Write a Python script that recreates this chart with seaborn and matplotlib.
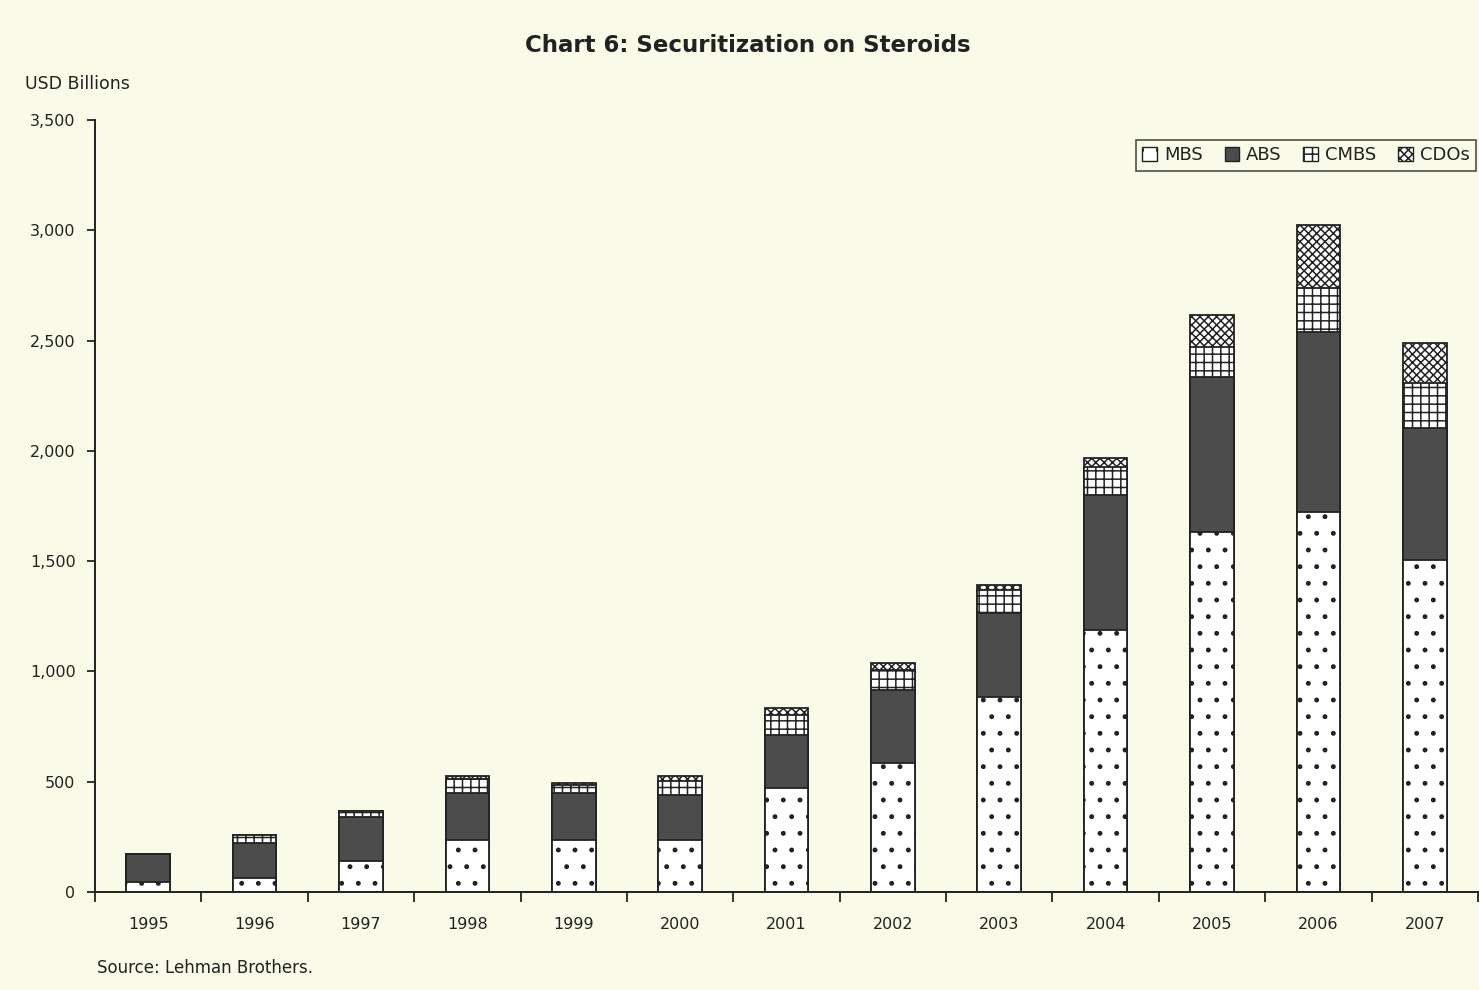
import matplotlib
matplotlib.use("Agg")
import matplotlib.pyplot as plt
from matplotlib.patches import Patch
import numpy as np
import seaborn as sns

# Issuance by product, USD billions
years = ["1995", "1996", "1997", "1998", "1999", "2000", "2001",
         "2002", "2003", "2004", "2005", "2006", "2007"]
mbs = [45, 63, 141, 236, 236, 236, 471, 585, 884, 1188, 1632, 1723, 1505]
abs_ = [127, 160, 199, 215, 213, 204, 241, 331, 381, 612, 702, 815, 598]
cmbs = [0, 35, 27, 60, 35, 62, 92, 92, 102, 127, 136, 200, 204]
cdos = [0, 0, 0, 15, 10, 24, 30, 30, 25, 40, 146, 286, 182]
series_names = ["MBS", "ABS", "CMBS", "CDOs"]
y_ticks = [0, 500, 1000, 1500, 2000, 2500, 3000, 3500]

BG = "#FAFAE9"
INK = "#222222"
sns.set_style("white")
plt.rcParams["font.family"] = ["DejaVu Sans"]
plt.rcParams["hatch.linewidth"] = 1.1

fig = plt.figure(figsize=(14.79, 9.90), dpi=100, facecolor=BG)
ax = fig.add_axes([95 / 1479, 98 / 990, 1383 / 1479, 772 / 990])
ax.set_facecolor(BG)

# fill, hatch per series
styles = {
    "MBS": dict(face="white", hatch="."),
    "ABS": dict(face="#4C4C4C", hatch=None),
    "CMBS": dict(face="white", hatch="++"),
    "CDOs": dict(face="white", hatch="xxxx"),
}

stack = np.cumsum(np.array([mbs, abs_, cmbs, cdos]), axis=0)

# draw the tallest cumulative layer first so lower layers sit on top
for idx in range(3, -1, -1):
    name = series_names[idx]
    st = styles[name]
    n0 = len(ax.patches)
    sns.barplot(x=years, y=stack[idx], color=st["face"], saturation=1,
                width=0.41, ax=ax, edgecolor=INK, linewidth=1.3)
    for p in ax.patches[n0:]:
        p.set_facecolor(st["face"])
        p.set_edgecolor(INK)
        if st["hatch"]:
            p.set_hatch(st["hatch"])

ax.set_xlim(-0.5, len(years) - 0.5)
ax.set_ylim(0, 3500)
ax.set_yticks(y_ticks)
ax.set_yticklabels([f"{v:,}" for v in y_ticks], fontsize=11.5, color=INK)
ax.set_xticks(range(len(years)))
ax.set_xticklabels(years, fontsize=11.5, color=INK)
ax.set_xticks(np.arange(-0.5, len(years)), minor=True)
ax.tick_params(axis="x", which="major", bottom=True, length=0, pad=18)
ax.tick_params(axis="x", which="minor", bottom=True, length=7, width=1.3,
               color=INK, direction="out")
ax.tick_params(axis="y", which="major", left=True, length=6, width=1.3,
               color=INK, direction="out", pad=8)
ax.set_xlabel("")
ax.set_ylabel("")
for side in ["top", "right"]:
    ax.spines[side].set_visible(False)
for side in ["left", "bottom"]:
    ax.spines[side].set_color(INK)
    ax.spines[side].set_linewidth(1.4)

handles = [Patch(facecolor=styles[n]["face"], edgecolor=INK,
                 hatch=styles[n]["hatch"], linewidth=1.0) for n in series_names]
leg = ax.legend(handles, series_names, ncol=4, loc="upper right",
                bbox_to_anchor=(0.9985, 0.974), fontsize=13, frameon=True,
                fancybox=False, edgecolor=INK, facecolor=BG,
                handlelength=0.8, handleheight=0.8, handletextpad=0.4,
                columnspacing=1.2, borderpad=0.35, borderaxespad=0.0)
leg.get_frame().set_linewidth(1.2)
for t in leg.get_texts():
    t.set_color(INK)

fig.text(748 / 1479, 1 - 46 / 990, "Chart 6: Securitization on Steroids",
         ha="center", va="center", fontsize=16.5, fontweight="bold", color=INK)
fig.text(25 / 1479, 1 - 84 / 990, "USD Billions", ha="left", va="center",
         fontsize=12.5, color=INK)
fig.text(97 / 1479, 1 - 968 / 990, "Source: Lehman Brothers.", ha="left",
         va="center", fontsize=12, color=INK)

fig.savefig("out.png", dpi=100, facecolor=BG)
